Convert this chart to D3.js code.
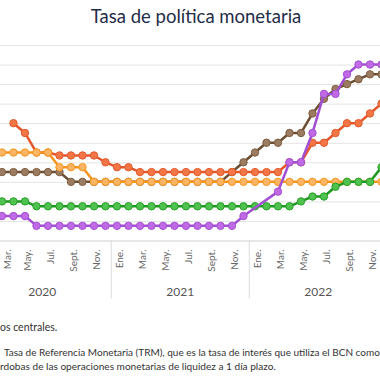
<!DOCTYPE html>
<html>
<head>
<meta charset="utf-8">
<script src="https://cdn.jsdelivr.net/npm/d3@7"></script>
<style>
  html, body { margin: 0; padding: 0; background: #ffffff; }
  svg { display: block; }
  text { font-family: Lato, "Noto Sans", sans-serif; }
</style>
</head>
<body>
<svg id="chart" width="380" height="380"></svg>
<script>
// ---- Data (monthly, first value = March 2020, last = December 2022) ----
const monthNames = ["Ene.","Feb.","Mar.","Abr.","May.","Jun.","Jul.","Ago.","Sept.","Oct.","Nov.","Dic."];
const years = ["2020","2021","2022"];
const startMonthIndex = 2; // March 2020

const costaRica = [1.25,1.25,1.25,0.75,0.75,0.75,0.75,0.75,0.75,0.75,
  0.75,0.75,0.75,0.75,0.75,0.75,0.75,0.75,0.75,0.75,0.75,1.25,
  null,null,2.5,4.0,4.0,5.5,7.5,7.5,8.5,9.0,9.0,9.0];
const guatemala = [2.0,2.0,2.0,1.75,1.75,1.75,1.75,1.75,1.75,1.75,
  1.75,1.75,1.75,1.75,1.75,1.75,1.75,1.75,1.75,1.75,1.75,1.75,
  1.75,1.75,1.75,1.75,2.0,2.25,2.25,2.75,3.0,3.0,3.0,3.75];
const honduras = [4.5,4.5,4.5,4.5,4.5,3.75,3.75,3.75,3.0,3.0,
  3.0,3.0,3.0,3.0,3.0,3.0,3.0,3.0,3.0,3.0,3.0,3.0,
  3.0,3.0,3.0,3.0,3.0,3.0,3.0,3.0,3.0,3.0,3.0,3.0];
const nicaragua = [null,6.0,5.5,4.5,4.5,4.35,4.35,4.35,4.35,4.0,
  3.75,3.75,3.5,3.5,3.5,3.5,3.5,3.5,3.5,3.5,3.5,3.5,
  3.5,3.5,3.5,4.0,4.0,5.0,5.0,5.5,6.0,6.0,6.5,7.0];
const repDominicana = [3.5,3.5,3.5,3.5,3.5,3.5,3.0,3.0,3.0,3.0,
  3.0,3.0,3.0,3.0,3.0,3.0,3.0,3.0,3.0,3.0,3.5,4.0,
  4.5,5.0,5.0,5.5,5.5,6.5,7.25,7.75,8.0,8.25,8.5,8.5];
const yTicks = [0,1,2,3,4,5,6,7,8,9,10];

const titleText = "Tasa de política monetaria";
const noteLines = [
  "os centrales.",
  "Tasa de Referencia Monetaria (TRM), que es la tasa de interés que utiliza el BCN como",
  "rdobas de las operaciones monetarias de liquidez a 1 día plazo."
];

// series drawn bottom -> top
const series = [
  {name:"República Dominicana", values: repDominicana, line:"#6b4e31", fill:"#9b7c60", stroke:"#7c5d40"},
  {name:"Nicaragua", values: nicaragua, line:"#e4572b", fill:"#f27646", stroke:"#e25a2d"},
  {name:"Honduras", values: honduras, line:"#f7941e", fill:"#fcb564", stroke:"#f7961f"},
  {name:"Guatemala", values: guatemala, line:"#1e981e", fill:"#4fc24f", stroke:"#27a027"},
  {name:"Costa Rica", values: costaRica, line:"#a24fd3", fill:"#c06ae6", stroke:"#a24fd3"}
];

// ---- Scales ----
const W = 380;
const svg = d3.select("#chart");
const x = d3.scaleLinear().domain([0, 35]).range([-21, 381.5]);
const y = d3.scaleLinear().domain([0, 10]).range([240.5, 45]);

// Title
svg.append("text")
  .attr("x", 196).attr("y", 23)
  .attr("text-anchor", "middle")
  .attr("font-size", 18.5)
  .attr("fill", "#1f2d48")
  .text(titleText);

// Gridlines
const yAxis = d3.axisLeft(y).tickValues(yTicks).tickSize(-400).tickFormat("");
const gy = svg.append("g").call(yAxis);
gy.select(".domain").remove();
gy.selectAll(".tick line").attr("stroke", "#e4e4e4").attr("stroke-width", 1);

// X axis labels (odd months, only those inside the visible window)
const allMonths = d3.range(0, 36);
const labelMonths = allMonths.filter(i => i % 2 === 0 && x(i) >= 0 && x(i) <= W);
const xAxis = d3.axisBottom(x).tickValues(labelMonths).tickSize(0)
  .tickFormat(i => monthNames[i % 12]);
const gx = svg.append("g").attr("transform", `translate(0,${y(0)})`).call(xAxis);
gx.select(".domain").attr("stroke", "#dcdcdc");
// justify labels that would overflow the left edge
gx.selectAll(".tick").attr("transform", d => `translate(${Math.max(x(d) + 2, 7)},0)`);
gx.selectAll(".tick text")
  .attr("font-size", 10)
  .attr("fill", "#666")
  .attr("text-anchor", "end")
  .attr("transform", "rotate(-90)")
  .attr("x", -9)
  .attr("y", 0)
  .attr("dy", "0.35em");

// Year separators and labels
const sepIdx = [11.5, 23.5];
svg.selectAll(".yearsep").data(sepIdx).enter().append("line")
  .attr("x1", d => x(d)).attr("x2", d => x(d))
  .attr("y1", y(0)).attr("y2", y(0) + 58)
  .attr("stroke", "#dcdcdc").attr("stroke-width", 1);
svg.selectAll(".yearlbl").data(years).enter().append("text")
  .attr("x", (d, i) => x(i * 12 + 5.5))
  .attr("y", y(0) + 55)
  .attr("text-anchor", "middle")
  .attr("font-size", 12)
  .attr("fill", "#555")
  .text(d => d);

// Lines and markers
const pts = s => s.values.map((v, k) => ({i: k + startMonthIndex, v})).filter(d => d.v !== null);
const line = d3.line().x(d => x(d.i)).y(d => y(d.v));
series.forEach(s => {
  const g = svg.append("g");
  const p = pts(s);
  g.append("path").datum(p)
    .attr("d", line)
    .attr("fill", "none")
    .attr("stroke", s.line)
    .attr("stroke-width", 2.5)
    .attr("stroke-linejoin", "round");
  g.selectAll("circle").data(p).enter().append("circle")
    .attr("cx", d => x(d.i)).attr("cy", d => y(d.v))
    .attr("r", 3.7)
    .attr("fill", s.fill)
    .attr("stroke", s.stroke)
    .attr("stroke-width", 1);
});

// Notes
const noteY = [331, 356, 370];
const noteX = [0, 4, 0];
const noteSize = [10.5, 10, 10.1];
svg.selectAll(".note").data(noteLines).enter().append("text")
  .attr("x", (d, i) => noteX[i])
  .attr("y", (d, i) => noteY[i])
  .attr("font-size", (d, i) => noteSize[i])
  .attr("fill", "#333")
  .text(d => d);
</script>
</body>
</html>
